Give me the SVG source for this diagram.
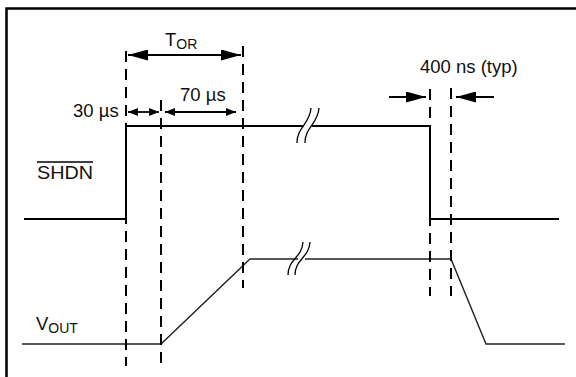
<svg xmlns="http://www.w3.org/2000/svg" width="576" height="377" viewBox="0 0 576 377">
<style>
.frame{fill:none;stroke:#000;stroke-width:2.5}
.sig{fill:none;stroke:#000;stroke-width:2}
.vout{fill:none;stroke:#222;stroke-width:1.4}
.dash{fill:none;stroke:#000;stroke-width:2;stroke-dasharray:11 7}
.brk{fill:none;stroke:#000;stroke-width:1.3}
.arr{fill:none;stroke:#000;stroke-width:1.8}
.lbl{font-family:"Liberation Sans",Arial,sans-serif;font-size:18.5px;fill:#111}
.sub{font-size:14px}
</style>
<defs>
<marker id="ahL" viewBox="0 0 20 11" refX="20" refY="5.5" markerWidth="20" markerHeight="11" orient="auto-start-reverse" markerUnits="userSpaceOnUse"><path d="M0,0 L20,5.5 L0,11 z" fill="#000"/></marker>
<marker id="ahS" viewBox="0 0 10 8" refX="10" refY="4" markerWidth="10" markerHeight="8" orient="auto-start-reverse" markerUnits="userSpaceOnUse"><path d="M0,0 L10,4 L0,8 z" fill="#000"/></marker>
</defs>
<g id="frame"><path class="frame" d="M6.5,378 V8.5 H577"/></g>
<g id="shdn-signal">
<path class="sig" d="M24,219 H126 V126 H304"/>
<path class="sig" d="M312,126 H430 V219 H559"/>
<path class="brk" d="M297,143 C297,127 310,124 311,108"/>
<path class="brk" d="M305,143 C305,127 318,124 319,108"/>
</g>
<g id="vout-signal">
<path class="vout" d="M22,344 H161 L250,259 H298"/>
<path class="vout" d="M305,259 H451 L486,344 H565"/>
<path class="brk" d="M288,275 C288,259 302,258 303,242"/>
<path class="brk" d="M295,275 C295,259 309,258 310,242"/>
</g>
<g id="guides">
<line class="dash" x1="126" y1="51" x2="126" y2="366"/>
<line class="dash" x1="161" y1="100" x2="161" y2="366"/>
<line class="dash" x1="243" y1="46" x2="243" y2="288"/>
<line class="dash" x1="430" y1="89" x2="430" y2="296"/>
<line class="dash" x1="451" y1="88" x2="451" y2="296"/>
</g>
<g id="connectors">
<line class="arr" x1="128" y1="55" x2="241" y2="55" marker-start="url(#ahL)" marker-end="url(#ahL)"/>
<line class="arr" x1="128" y1="112" x2="159" y2="112" marker-start="url(#ahS)" marker-end="url(#ahS)"/>
<line class="arr" x1="165" y1="112" x2="236" y2="112" marker-start="url(#ahS)" marker-end="url(#ahS)"/>
<line class="arr" x1="389" y1="97" x2="426" y2="97" marker-end="url(#ahL)"/>
<line class="arr" x1="494" y1="97" x2="456" y2="97" marker-end="url(#ahL)"/>
</g>
<g id="labels">
<text class="lbl" x="165" y="46">T<tspan class="sub" dy="3">OR</tspan></text>
<text class="lbl" x="73" y="117">30 µs</text>
<text class="lbl" x="180" y="101">70 µs</text>
<text class="lbl" x="420" y="73">400 ns (typ)</text>
<text class="lbl" x="37" y="179" textLength="56" lengthAdjust="spacingAndGlyphs">SHDN</text>
<line x1="37" y1="162" x2="93" y2="162" stroke="#000" stroke-width="1.5"/>
<text class="lbl" x="36" y="330">V<tspan class="sub" dy="3">OUT</tspan></text>
</g>
</svg>
